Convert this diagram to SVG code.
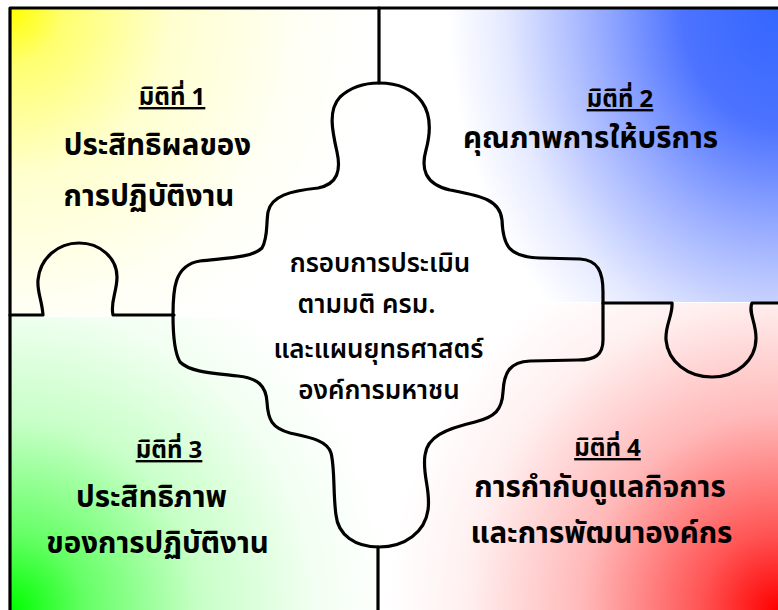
<svg xmlns="http://www.w3.org/2000/svg" width="778" height="610" viewBox="0 0 778 610">
<defs>
<radialGradient id="gY" gradientUnits="userSpaceOnUse" cx="0" cy="0" r="360" gradientTransform="translate(10,8) scale(1,1.05)">
<stop offset="0" stop-color="#FFFF00"/><stop offset="0.15" stop-color="#FFFF70"/><stop offset="0.45" stop-color="#FFFFD0"/><stop offset="0.8" stop-color="#FFFFF5"/><stop offset="1" stop-color="#FFFFFF"/>
</radialGradient>
<radialGradient id="gB" gradientUnits="userSpaceOnUse" cx="0" cy="0" r="340" gradientTransform="translate(778,8) scale(1,1.25)">
<stop offset="0" stop-color="#3366FF"/><stop offset="0.28" stop-color="#4D73FF"/><stop offset="0.55" stop-color="#A0B2FF"/><stop offset="0.8" stop-color="#E4E9FF"/><stop offset="0.97" stop-color="#FFFFFF"/>
</radialGradient>
<radialGradient id="gG" gradientUnits="userSpaceOnUse" cx="10" cy="610" r="380">
<stop offset="0" stop-color="#00FF00"/><stop offset="0.2" stop-color="#66FF66"/><stop offset="0.5" stop-color="#C8FFC8"/><stop offset="0.8" stop-color="#F2FFF2"/><stop offset="1" stop-color="#FFFFFF"/>
</radialGradient>
<radialGradient id="gR" gradientUnits="userSpaceOnUse" cx="778" cy="610" r="390">
<stop offset="0" stop-color="#FF0000"/><stop offset="0.2" stop-color="#FF5555"/><stop offset="0.5" stop-color="#FFB8B8"/><stop offset="0.8" stop-color="#FFF0F0"/><stop offset="1" stop-color="#FFFFFF"/>
</radialGradient>
</defs>
<style>
.ln{fill:none;stroke:#000;stroke-width:3.2;stroke-linejoin:round;stroke-linecap:round}
.t{font-family:Tahoma,"Noto Sans Thai","Noto Sans Thai UI",Loma,Garuda,"Liberation Sans",sans-serif;font-weight:bold;fill:#000;text-anchor:middle}
.h{font-size:24px;text-decoration:underline}
.b{font-size:29.5px}
.c{font-size:26px;font-weight:600}
</style>
<rect x="0" y="0" width="778" height="610" fill="#FFFFFF"/>
<g id="fills">
<rect x="10" y="8" width="369" height="308" fill="url(#gY)"/>
<rect x="449" y="8" width="329" height="294" fill="url(#gB)"/>
<rect x="10" y="317" width="368" height="293" fill="url(#gG)"/>
<rect x="378" y="303" width="400" height="307" fill="url(#gR)"/>
</g>
<g id="connectors">
<path class="ln" d="M10,610 L10,8 L778,8"/>
<path class="ln" d="M379,8 L379,83"/>
<path class="ln" d="M378,547 L378,610"/>
<path class="ln" d="M10,315 L43,315 C42,300 37,292 38,280 C40,258 58,243 79,243 C100,243 117,258 117,277 C117,292 110,302 113,315 L174,315"/>
<path class="ln" d="M603,303 L672,303 C673,315 665,325 666,340 C668,362 688,377 712,377 C737,377 756,360 756,338 C756,322 748,312 752,303 L778,303"/>
</g>
<g id="center">
<path class="ln" d="M379,83 C395,83 412,88 422,102 C432,116 430,135 426,150 C421,168 424,184 450,190 C480,196 500,199 502,220 C503,245 508,257 540,258 L580,259 C598,260 603,272 603,292 L603,340 C603,355 595,360 578,360 L530,361 C510,362 504,372 503,392 C502,410 495,417 475,422 C445,429 427,437 425,455 C422,475 431,490 428,510 C425,532 405,547 379,547 C355,547 338,535 336,515 C333,495 335,468 331,453 C327,440 308,437 290,433 C272,428 268,420 267,402 C266,386 258,378 238,376 C212,373 190,372 180,362 C174,352 173,335 173,315 C173,290 174,265 200,261 C225,258 252,258 262,248 C268,238 266,225 268,212 C271,196 290,191 318,188 C338,184 341,170 337,152 C332,130 328,110 340,97 C352,86 365,83 379,83 Z"/>
</g>
<g id="dim1">
<text class="t h" x="172" y="105">มิติที่ 1</text>
<text class="t b" x="157.5" y="155">ประสิทธิผลของ</text>
<text class="t b" x="149" y="206">การปฏิบัติงาน</text>
</g>
<g id="dim2">
<text class="t h" x="620" y="107">มิติที่ 2</text>
<text class="t b" x="590.5" y="148">คุณภาพการให้บริการ</text>
</g>
<g id="dim3">
<text class="t h" x="169" y="458">มิติที่ 3</text>
<text class="t b" x="151.5" y="507">ประสิทธิภาพ</text>
<text class="t b" x="157.5" y="553">ของการปฏิบัติงาน</text>
</g>
<g id="dim4">
<text class="t h" x="607.5" y="456">มิติที่ 4</text>
<text class="t b" x="600" y="497">การกำกับดูแลกิจการ</text>
<text class="t b" x="601.5" y="543">และการพัฒนาองค์กร</text>
</g>
<g id="centertext">
<text class="t c" x="380" y="272">กรอบการประเมิน</text>
<text class="t c" x="366.5" y="313">ตามมติ ครม.</text>
<text class="t c" x="378.5" y="358">และแผนยุทธศาสตร์</text>
<text class="t c" x="379" y="399">องค์การมหาชน</text>
</g>
</svg>
